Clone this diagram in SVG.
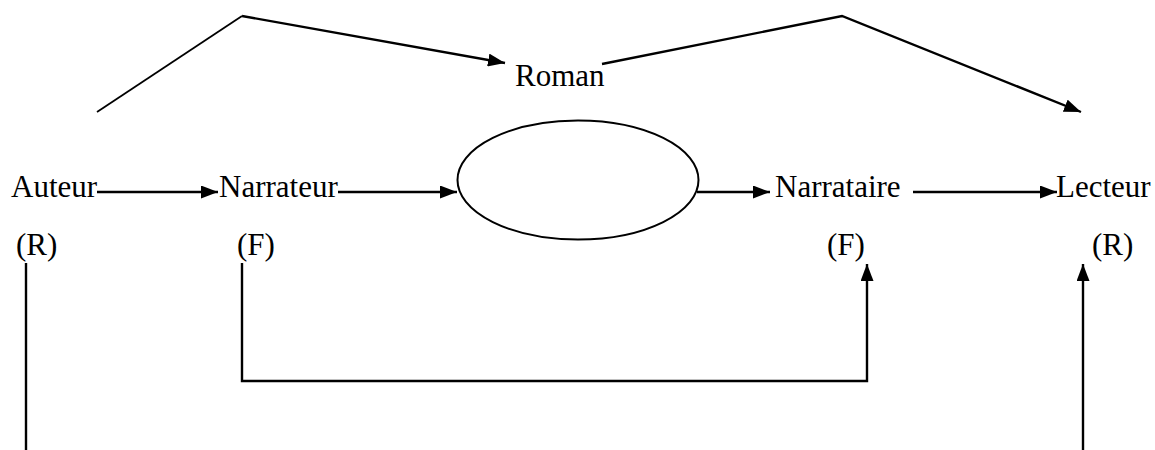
<svg xmlns="http://www.w3.org/2000/svg" width="1155" height="450" viewBox="0 0 1155 450">
  <style>
    .lbl { font-family: "Liberation Serif", "Times New Roman", serif; font-size: 31px; fill: #000; }
    .edge { fill: none; stroke: #000; stroke-width: 2.4; stroke-linejoin: miter; }
    .thin { stroke-width: 1.8; }
  </style>
  <defs>
    <marker id="arrow" markerUnits="userSpaceOnUse" markerWidth="17" markerHeight="13" refX="17" refY="6.5" orient="auto">
      <path d="M0,0 L17,6.5 L0,13 z" fill="#000"/>
    </marker>
  </defs>
  <rect width="1155" height="450" fill="#fff"/>

  <g id="connectors">
    <!-- upper arcs over the chain -->
    <path class="edge thin" d="M97,112 L242,16"/>
    <path class="edge" d="M242,16 L505,63" marker-end="url(#arrow)"/>
    <path class="edge" d="M602,64 L842,16 L1081,112" marker-end="url(#arrow)"/>
    <!-- main chain -->
    <path class="edge" d="M97,192 L218,192" marker-end="url(#arrow)"/>
    <path class="edge" d="M338,192 L457,192" marker-end="url(#arrow)"/>
    <path class="edge" d="M697,192 L770,192" marker-end="url(#arrow)"/>
    <path class="edge" d="M913,192 L1057,192" marker-end="url(#arrow)"/>
    <!-- fictional link: Narrateur to Narrataire -->
    <path class="edge" d="M242,263 L242,381 L867,381 L867,264" marker-end="url(#arrow)"/>
    <!-- real link: Auteur to Lecteur -->
    <path class="edge" d="M26,263 L26,450"/>
    <path class="edge" d="M1083,450 L1083,264" marker-end="url(#arrow)"/>
  </g>

  <g id="roman"><text class="lbl" x="515" y="86">Roman</text></g>
  <g id="auteur">
    <text class="lbl" x="11" y="197">Auteur</text>
    <text class="lbl" x="16" y="255">(R)</text>
  </g>
  <g id="narrateur">
    <text class="lbl" x="219" y="197">Narrateur</text>
    <text class="lbl" x="237" y="255">(F)</text>
  </g>
  <g id="recit">
    <ellipse cx="578" cy="180" rx="120.5" ry="59.5" fill="none" stroke="#000" stroke-width="2"/>
  </g>
  <g id="narrataire">
    <text class="lbl" x="775" y="197">Narrataire</text>
    <text class="lbl" x="827" y="255">(F)</text>
  </g>
  <g id="lecteur">
    <text class="lbl" x="1056" y="197">Lecteur</text>
    <text class="lbl" x="1092" y="255">(R)</text>
  </g>
</svg>
